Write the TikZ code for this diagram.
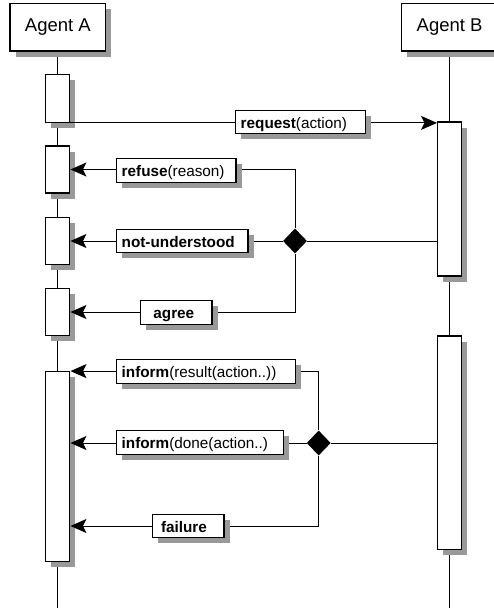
\documentclass[tikz,border=0pt]{standalone}
\usepackage{fontspec}
\setmainfont{Liberation Sans}
\usetikzlibrary{shadows,shapes.geometric,arrows.meta}
\pgfdeclarelayer{background}
\pgfsetlayers{background,main}
\begin{document}
\begin{tikzpicture}[x=1pt,y=-1pt,
 shbox/.style={draw, fill=white, line width=1.2pt, drop shadow={shadow xshift=5.5pt, shadow yshift=-5.5pt, fill=black!40, opacity=1}},
 agent/.style={shbox, minimum width=95.7pt, minimum height=47.7pt, inner sep=0pt, text height=9pt, text depth=0pt, font=\fontsize{18.5}{22}\selectfont},
 act/.style={shbox, minimum width=24pt, inner sep=0pt},
 msg/.style={shbox, inner xsep=5pt, inner ysep=0pt, minimum height=23.5pt, align=left, text height=12pt, text depth=0pt, font=\fontsize{15.3}{18}\selectfont},
 arr/.style={line width=1pt, -{Stealth[length=16pt,width=14pt,inset=3.5pt]}},
 ln/.style={line width=1pt},
 choice/.style={diamond, fill=black, inner sep=0pt, minimum width=24pt, minimum height=25pt},
]
\useasboundingbox (0,0) rectangle (493,608);

% agents
\node[agent] (agentA) at (57.85,27.15) {Agent A};
\node[agent] (agentB) at (449.6,27.15) {Agent B};

% activation boxes
\node[act, minimum height=47.6pt] (A1) at (57.85,98.5) {};
\node[act, minimum height=47pt]   (A2) at (57.85,169.5) {};
\node[act, minimum height=47.4pt] (A3) at (57.85,241) {};
\node[act, minimum height=47.4pt] (A4) at (57.85,312) {};
\node[act, minimum height=189.6pt] (A5) at (57.85,466.5) {};
\node[act, minimum height=154pt]  (B1) at (449.6,199) {};
\node[act, minimum height=213.5pt] (B2) at (449.6,442.75) {};

% lifelines
\coordinate (bot) at (0,608);
\begin{pgfonlayer}{background}
\draw[ln] (agentA.south) -- (agentA.south |- bot);
\draw[ln] (agentB.south) -- (agentB.south |- bot);
\end{pgfonlayer}

% choice diamonds
\node[choice] (d1) at (295,241) {};
\node[choice] (d2) at (318.7,443) {};

% message lines
\draw[arr] (A1.south east) -- (A1.south east -| B1.west);
\draw[arr] (d1.north) |- (A2.east);
\draw[ln]  (B1.west |- d1) -- (d1.east);
\draw[arr] (d1.west) -- (A3.east);
\draw[arr] (d1.south) |- (A4.east);
\draw[arr] (d2.north) |- (A5.north east);
\draw[ln]  (B2.west |- d2) -- (d2.east);
\draw[arr] (d2.west) -- (d2.west -| A5.east);
\coordinate (fy) at (0,526);
\draw[arr] (d2.south) |- (A5.east |- fy);

% message labels
\node[msg, text width=120pt] (req) at (300.7,122) {\textbf{request}(action)};
\node[msg, text width=109.3pt] (ref) at (176.35,170.35) {\textbf{refuse}(reason)};
\node[msg, text width=121.3pt] (nu) at (182.35,241) {\textbf{not-understood}};
\node[msg, inner xsep=12.7pt, text width=45.9pt] (ag) at (176.35,312.35) {\textbf{agree}};
\node[msg, text width=168.6pt] (ir) at (206,371.5) {\textbf{inform}(result(action..))};
\node[msg, text width=156.6pt] (idn) at (200,442.5) {\textbf{inform}(done(action..)};
\node[msg, inner xsep=8.7pt, text width=54.3pt] (fa) at (188.15,526) {\textbf{failure}};
\end{tikzpicture}
\end{document}
